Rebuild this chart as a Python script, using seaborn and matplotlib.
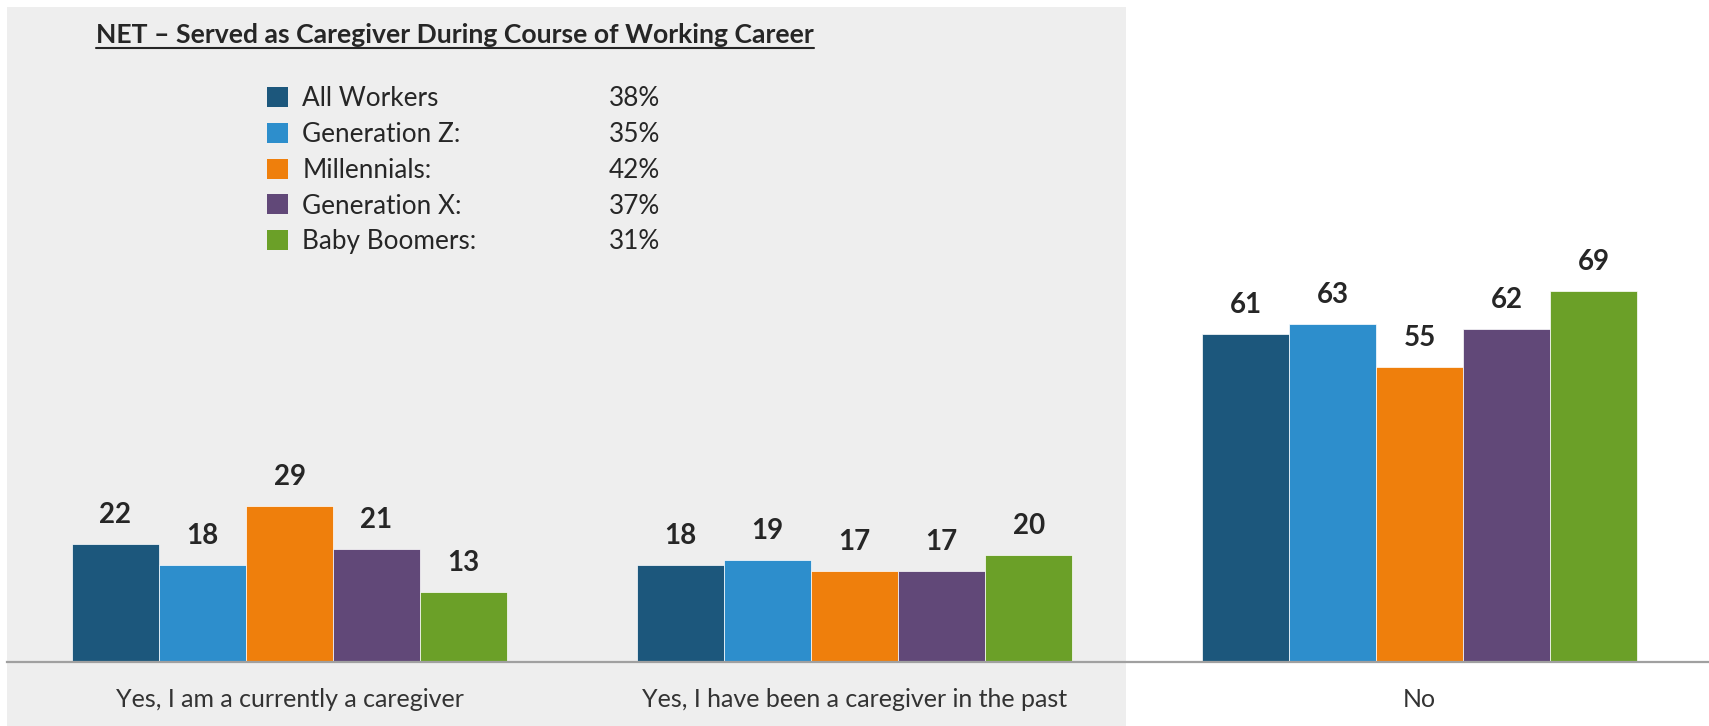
import matplotlib
matplotlib.use("Agg")
import matplotlib.pyplot as plt
from matplotlib.patches import Rectangle, Patch
from matplotlib.lines import Line2D
import seaborn as sns
import pandas as pd

categories = ["Yes, I am a currently a caregiver",
              "Yes, I have been a caregiver in the past",
              "No"]
groups = ["All Workers", "Generation Z:", "Millennials:", "Generation X:", "Baby Boomers:"]
legend_labels = ["All Workers", "Generation Z:", "Millennials:", "Generation X:", "Baby Boomers:"]
net_pct = ["38%", "35%", "42%", "37%", "31%"]
all_workers = [22, 18, 61]
gen_z = [18, 19, 63]
millennials = [29, 17, 55]
gen_x = [21, 17, 62]
boomers = [13, 20, 69]
title = "NET \u2013 Served as Caregiver During Course of Working Career"

colors = ["#1C577C", "#2D8ECC", "#EF7F0C", "#614878", "#6BA028"]

rows = []
for g, vals in zip(groups, [all_workers, gen_z, millennials, gen_x, boomers]):
    for c, v in zip(categories, vals):
        rows.append({"category": c, "group": g, "value": v})
df = pd.DataFrame(rows)

sns.set_theme(style="white")
plt.rcParams["font.family"] = ["Lato", "DejaVu Sans"]

W, H = 1709, 726
fig = plt.figure(figsize=(W / 100, H / 100), dpi=100)
fig.patch.set_facecolor("white")

ax = fig.add_axes([7 / W, 64 / H, 1 - 7 / W, 537 / H])
ax.patch.set_alpha(0)

# gray panel behind first two groups
ax.add_patch(Rectangle((7 / W, 0), (1126 - 7) / W, (H - 7) / H,
                       transform=fig.transFigure, facecolor="#EEEEEE",
                       edgecolor="none", zorder=-5, clip_on=False))

sns.barplot(data=df, x="category", y="value", hue="group", order=categories,
            hue_order=groups, palette=colors, width=0.77, dodge=True,
            saturation=1, edgecolor="white", linewidth=0.5, ax=ax,
            legend=False, errorbar=None)

ax.set_ylim(0, 100)
ax.set_xlim(-0.5, 2.512)
for cont in ax.containers:
    ax.bar_label(cont, padding=11.5, fontsize=20, fontweight="bold", color="#262626")

for s in ["top", "right", "left"]:
    ax.spines[s].set_visible(False)
ax.spines["bottom"].set_color("#A0A0A0")
ax.spines["bottom"].set_linewidth(1.6)
ax.spines["bottom"].set_zorder(3)
ax.set_yticks([])
ax.set_xlabel("")
ax.set_ylabel("")
ax.tick_params(axis="x", length=0, pad=18.5, labelsize=18, labelcolor="#333333")

# title
t = fig.text(96 / W, 1 - 35 / H, title, fontsize=19.1, fontweight="bold",
             color="#262626", ha="left", va="center")

handles = [Patch(facecolor=c, edgecolor="none") for c in colors]
leg = fig.legend(handles, legend_labels, loc="upper left",
                 bbox_to_anchor=(267 / W, 1 - 86 / H), frameon=False,
                 fontsize=18.8, handlelength=0.8, handleheight=0.8,
                 handletextpad=0.55, labelspacing=0.415, borderpad=0,
                 borderaxespad=0, labelcolor="#262626")

fig.canvas.draw()
r = fig.canvas.get_renderer()
bb = t.get_window_extent(r)
fig.add_artist(Line2D([bb.x0 / W, bb.x1 / W], [1 - 48 / H, 1 - 48 / H],
                      transform=fig.transFigure, color="#262626", linewidth=1.5))
for txt, p in zip(leg.get_texts(), net_pct):
    b = txt.get_window_extent(r)
    yc = (b.y0 + b.y1) / 2 / H
    fig.text(609 / W, yc, p, fontsize=18.8, color="#262626", ha="left", va="center")

fig.savefig("out.png", dpi=100)
